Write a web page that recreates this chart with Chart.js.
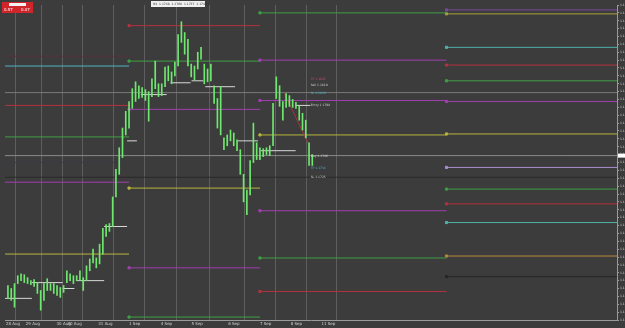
<!DOCTYPE html>
<html>
<head>
<meta charset="utf-8">
<script src="https://cdn.jsdelivr.net/npm/chart.js@4.4.0/dist/chart.umd.min.js"></script>
<style>
  html, body { margin: 0; padding: 0; background: #3c3c3c; }
  #wrap { width: 625px; height: 328px; }
</style>
</head>
<body>
<div id="wrap"><canvas id="chart" width="625" height="328"></canvas></div>
<script>
// price bars, one per bar index (high / low)
const barHigh = [
  1.1615, 1.1612, 1.1617, 1.1625, 1.1627, 1.1626, 1.1623, 1.1620, 1.1621, 1.1618,
  1.1610, 1.1617, 1.1622, 1.1617, 1.1617, 1.1615, 1.1613, 1.1615, 1.1630, 1.1627,
  1.1625, 1.1625, 1.1630, 1.1623, 1.1635, 1.1642, 1.1652, 1.1643, 1.1657, 1.1673,
  1.1677, 1.1678, 1.1705, 1.1733, 1.1755, 1.1775, 1.1792, 1.1802, 1.1815, 1.1822,
  1.1818, 1.1816, 1.1814, 1.1812, 1.1825, 1.1843, 1.1820, 1.1820, 1.1837, 1.1838,
  1.1832, 1.1842, 1.1870, 1.1883, 1.1872, 1.1865, 1.1840, 1.1838, 1.1852, 1.1857,
  1.1840, 1.1835, 1.1840, 1.1818, 1.1805, 1.1817, 1.1765, 1.1768, 1.1773, 1.1770,
  1.1763, 1.1753, 1.1728, 1.1712, 1.1742, 1.1780, 1.1760, 1.1755, 1.1754, 1.1755,
  1.1757, 1.1800, 1.1827, 1.1818, 1.1802, 1.1810, 1.1808, 1.1804, 1.1801, 1.1797,
  1.1790, 1.1783, 1.1760, 1.1748
];
const barLow = [
  1.1602, 1.1600, 1.1593, 1.1617, 1.1620, 1.1618, 1.1617, 1.1616, 1.1614, 1.1607,
  1.1590, 1.1600, 1.1610, 1.1610, 1.1607, 1.1605, 1.1603, 1.1608, 1.1618, 1.1620,
  1.1617, 1.1620, 1.1620, 1.1610, 1.1620, 1.1630, 1.1638, 1.1633, 1.1637, 1.1647,
  1.1665, 1.1670, 1.1675, 1.1705, 1.1728, 1.1745, 1.1768, 1.1775, 1.1795, 1.1802,
  1.1805, 1.1806, 1.1803, 1.1782, 1.1807, 1.1815, 1.1807, 1.1808, 1.1817, 1.1823,
  1.1820, 1.1828, 1.1838, 1.1862, 1.1850, 1.1838, 1.1827, 1.1824, 1.1835, 1.1845,
  1.1820, 1.1822, 1.1823, 1.1800, 1.1775, 1.1768, 1.1753, 1.1757, 1.1762, 1.1757,
  1.1752, 1.1728, 1.1700, 1.1687, 1.1707, 1.1740, 1.1743, 1.1743, 1.1746, 1.1748,
  1.1747, 1.1757, 1.1805, 1.1797, 1.1783, 1.1796, 1.1797, 1.1796, 1.1795, 1.1783,
  1.1773, 1.1765, 1.1737, 1.1737
];

// pivot periods (in bar index units)
const periodStart = [-0.9, 37, 77, 134];
const periodEnd   = [37, 77, 134, 186.1];
const periodLevels = [
  [1.1848, 1.1838, 1.1798, 1.1766, 1.1740, 1.1720, 1.1647],
  [1.1879, 1.1843, 1.1794, 1.1714, 1.1633, 1.1583],
  [1.1892, 1.1844, 1.1803, 1.1768, 1.1691, 1.1643, 1.1609],
  [1.1895, 1.1891, 1.1857, 1.1839, 1.1823, 1.1802, 1.1769, 1.1735, 1.1713, 1.1698, 1.1679, 1.1645, 1.1624]
];
const periodColors = [
  ['#5a3138', '#4fb3c6', '#b3323f', '#3f9f45', '#3a3a44', '#a13fb0', '#b7b43c'],
  ['#b3323f', '#3f9f45', '#a13fb0', '#b7b43c', '#a13fb0', '#3f9f45'],
  ['#3f9f45', '#a13fb0', '#a13fb0', '#b7b43c', '#a13fb0', '#3f9f45', '#b3323f'],
  ['#7a4a9a', '#a8a23a', '#4fb3a8', '#b3323f', '#3f9f45', '#a13fb0', '#b7b43c', '#a98fcf', '#3f9f45', '#b3323f', '#4fb3a8', '#b8873a', '#262626']
];

// full width lines (price)
const fullLines = [1.1811, 1.1747, 1.1725];
const fullColors = ['#7a7a7a', '#8a8a8a', '#2a2a2a'];

// short high/low markers: start bar, end bar, price
const markStart = [-0.9, 7.3, 16.7, 20.9, 29.4, 36.4, 40.6, 49.7, 56.1, 60.3, 70.3, 77.3, 87.9];
const markEnd   = [7.3, 16.7, 20.3, 29.4, 36.4, 39.4, 48.5, 55.8, 59.7, 69.4, 76.4, 87.9, 92.4];
const markPrice = [1.1602, 1.1618, 1.1612, 1.1620, 1.1675, 1.1762, 1.1809, 1.1821, 1.1823, 1.1817, 1.1762, 1.1752, 1.1798];

// trend line
const trendX = [84.5, 92.1];
const trendY = [1.1810, 1.1757];

// vertical grid positions and labels
const gridBars = [-0.6, 5.45, 14.85, 18.2, 27.6, 37, 46.7, 56.1, 67.3, 77, 86.4, 95.8];
const gridLabels = ['28 Aug', '29 Aug', '30 Aug', '30 Aug', '31 Aug', '1 Sep', '4 Sep', '5 Sep', '6 Sep', '7 Sep', '8 Sep', '11 Sep'];

// trade labels near the last bars
const noteText  = ['TP 1.1825', 'Sell 1.1819', 'SL 1.1810', 'Entry 1.1798', 'Buy 1.1746', 'TP 1.1734', 'SL 1.1725'];
const notePrice = [1.1825, 1.1819, 1.1810, 1.1798, 1.1746, 1.1734, 1.1725];
const noteColor = ['#c0506a', '#cfcfcf', '#4fb3c6', '#cfcfcf', '#cfcfcf', '#4fb3c6', '#cfcfcf'];

const datasets = [];

datasets.push({
  type: 'bar',
  data: barHigh.map((h, i) => ({ x: i, y: [barLow[i], h] })),
  backgroundColor: '#6fe86f',
  borderWidth: 0,
  barThickness: 1,
  order: 0
});

periodLevels.forEach((levels, p) => {
  levels.forEach((v, j) => {
    datasets.push({
      type: 'line',
      data: [{ x: periodStart[p], y: v }, { x: periodEnd[p], y: v }],
      borderColor: periodColors[p][j],
      backgroundColor: periodColors[p][j],
      borderWidth: 1,
      pointRadius: p === 0 ? [0, 0] : [1.5, 0],
      pointStyle: 'rect',
      order: 2
    });
  });
});

fullLines.forEach((v, j) => {
  datasets.push({
    type: 'line',
    data: [{ x: -0.9, y: v }, { x: 186.1, y: v }],
    borderColor: fullColors[j],
    borderWidth: 1,
    pointRadius: 0,
    order: 3
  });
});

markPrice.forEach((v, j) => {
  datasets.push({
    type: 'line',
    data: [{ x: markStart[j], y: v }, { x: markEnd[j], y: v }],
    borderColor: '#d8d8d8',
    borderWidth: 1,
    pointRadius: 0,
    order: 1
  });
});

datasets.push({
  type: 'line',
  data: [{ x: trendX[0], y: trendY[0] }, { x: trendX[1], y: trendY[1] }],
  borderColor: '#a8343c',
  borderWidth: 1,
  pointRadius: 0,
  order: 1
});

// Decorations: panel buttons, current price tag, trade notes
const decor = {
  id: 'decor',
  afterDatasetsDraw(chart) {
    const ctx = chart.ctx;
    const xs = chart.scales.x, ys = chart.scales.y;
    ctx.save();
    // top-left red panel
    ctx.fillStyle = '#d0262b';
    ctx.fillRect(2, 2, 31, 11);
    ctx.fillStyle = '#f2f2f2';
    ctx.fillRect(9, 3, 17, 3);
    ctx.fillStyle = '#ffffff';
    ctx.font = '4px "DejaVu Sans"';
    ctx.textBaseline = 'middle';
    ctx.fillText('0.57', 4, 9.5);
    ctx.fillText('0.07', 21, 9.5);
    // top info box
    ctx.fillStyle = '#f0f0f0';
    ctx.fillRect(151, 1, 54, 6);
    ctx.fillStyle = '#333';
    ctx.font = '3px "DejaVu Sans"';
    ctx.fillText('H4  1.1748  1.1760  1.1737  1.1748', 153, 4);
    // notes
    ctx.font = '3px "DejaVu Sans"';
    noteText.forEach((t, i) => {
      ctx.fillStyle = noteColor[i];
      ctx.fillText(t, xs.getPixelForValue(92.5), ys.getPixelForValue(notePrice[i]));
    });
    // current price tag on axis
    const py = ys.getPixelForValue(fullLines[1]);
    ctx.fillStyle = '#ffffff';
    ctx.fillRect(chart.chartArea.right + 1, py - 2, 8, 4);
    ctx.restore();
  }
};

new Chart(document.getElementById('chart'), {
  data: { datasets },
  options: {
    responsive: false,
    animation: false,
    layout: { padding: 0 },
    plugins: { legend: { display: false }, tooltip: { enabled: false } },
    scales: {
      x: {
        type: 'linear',
        min: -0.9,
        max: 186.1,
        offset: false,
        afterBuildTicks: (axis) => { axis.ticks = gridBars.map(v => ({ value: v })); },
        afterFit: (axis) => { axis.height = 8; },
        grid: { color: '#5e5e5e', tickLength: 0 },
        border: { color: '#9a9a9a' },
        ticks: {
          color: '#d0d0d0',
          font: { size: 4, family: 'DejaVu Sans' },
          padding: 2,
          maxRotation: 0,
          autoSkip: false,
          align: 'start',
          callback: (v, i) => gridLabels[i]
        }
      },
      y: {
        position: 'right',
        min: 1.158,
        max: 1.19,
        afterFit: (axis) => { axis.width = 8; },
        grid: { drawOnChartArea: false, color: '#9a9a9a', tickLength: 2 },
        border: { color: '#9a9a9a' },
        ticks: {
          stepSize: 0.0008,
          autoSkip: false,
          color: '#d8d8d8',
          font: { size: 3, family: 'DejaVu Sans' },
          padding: 1,
          callback: (v) => v.toFixed(4)
        }
      }
    }
  },
  plugins: [{
    id: 'bg',
    beforeDraw(chart) {
      const c = chart.ctx;
      c.save();
      c.fillStyle = '#3c3c3c';
      c.fillRect(0, 0, chart.width, chart.height);
      c.restore();
    }
  }, decor]
});
</script>
</body>
</html>
